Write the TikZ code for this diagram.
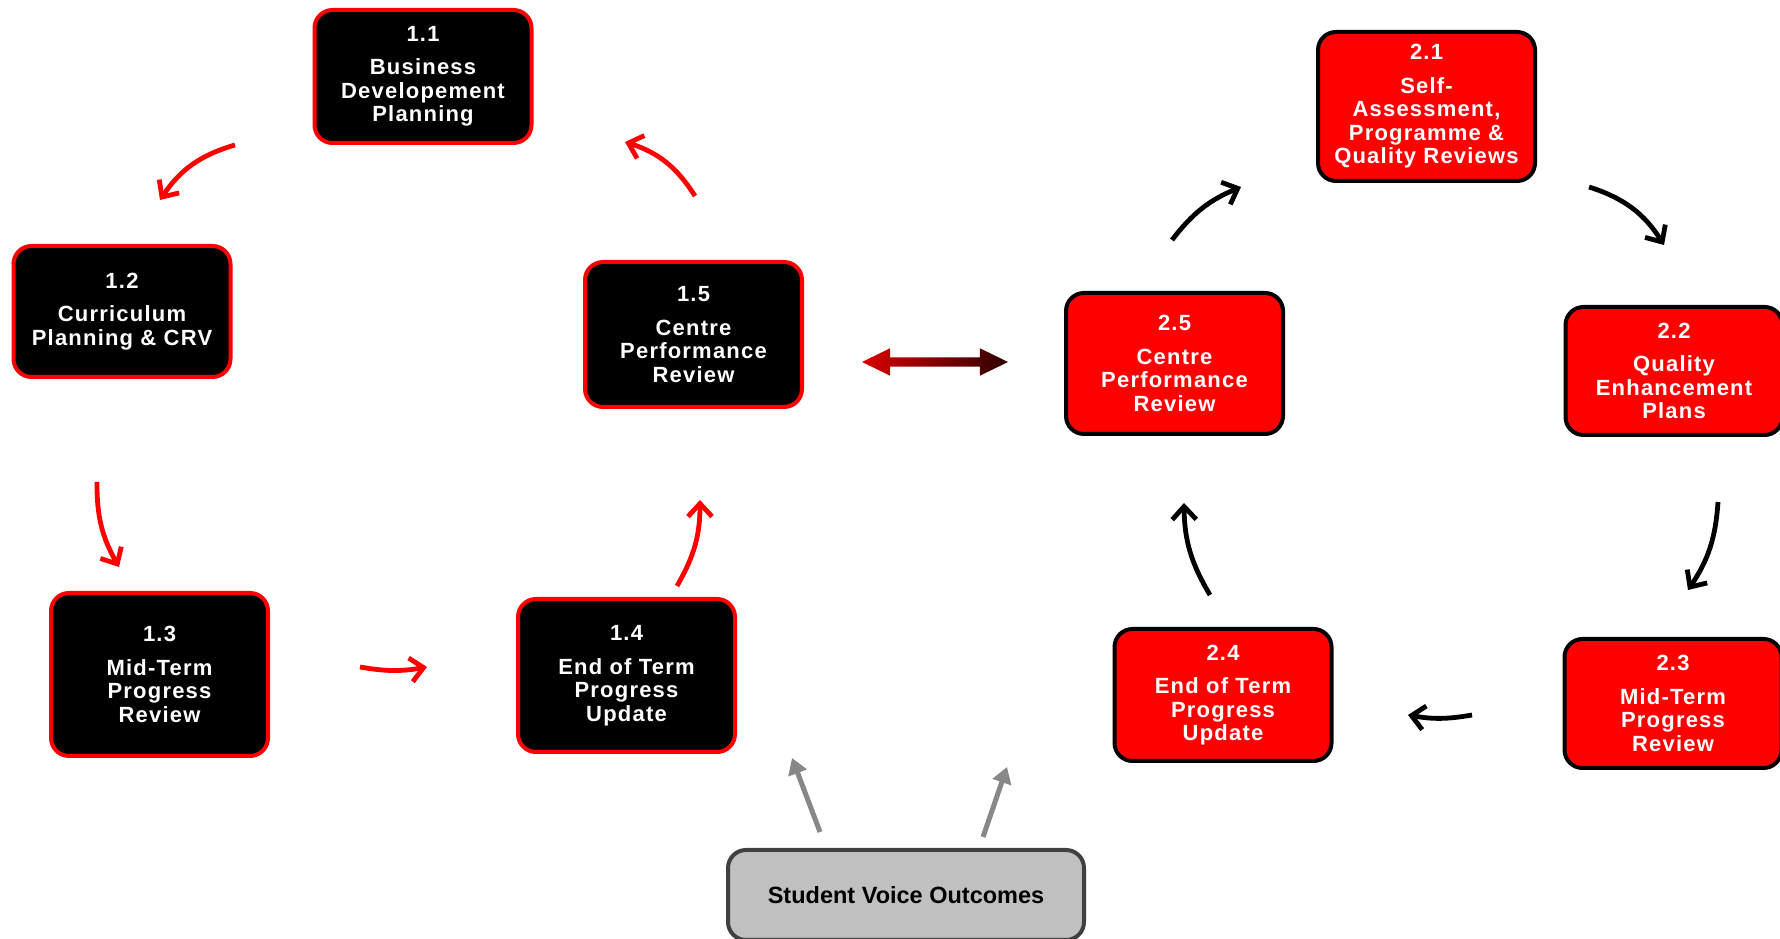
\documentclass[tikz,border=0pt]{standalone}
\usepackage{fontspec}
\setmainfont{Liberation Sans}
\newfontfamily\boxfont{Liberation Sans}[LetterSpace=5.5]
\usetikzlibrary{arrows.meta,shapes.arrows}
\definecolor{brightred}{HTML}{FF0000}
\definecolor{voicegray}{HTML}{C0C0C0}
\definecolor{voiceedge}{HTML}{404040}
\definecolor{arrowgray}{HTML}{888888}
\definecolor{linkred}{HTML}{DA0000}
\definecolor{linkdark}{HTML}{2E0000}

\begin{document}
\begin{tikzpicture}[
    x=1pt, y=1pt,
    stage/.style={rounded corners=18pt, line width=4pt, minimum width=217pt, align=center, text=white, inner sep=2pt, font=\boxfont\bfseries\fontsize{22}{23.5}\selectfont},
    oldbox/.style={stage, draw=brightred, fill=black},
    newbox/.style={stage, draw=black, fill=brightred},
    voicebox/.style={draw=voiceedge, fill=voicegray, rounded corners=18pt, line width=4pt, minimum width=356pt, minimum height=90pt, font=\bfseries\fontsize{23.5}{26}\selectfont},
    redarrow/.style={-{Straight Barb[length=13pt, width=24pt]}, line width=4.8pt, draw=brightred},
    blackarrow/.style={-{Straight Barb[length=13pt, width=24pt]}, line width=4.8pt, draw=black},
    grayarrow/.style={-{Triangle[length=16pt, width=19pt]}, line width=5pt, draw=arrowgray}
]
\clip (0,0) rectangle (1780,939);
\node[oldbox, minimum height=133pt] (bizplan) at (423,862.5) {1.1\\[10pt]Business\\Developement\\Planning};
\node[oldbox, minimum height=131pt] (currplan) at (122,627.5) {1.2\\[10pt]Curriculum\\Planning \& CRV};
\node[oldbox, minimum height=163pt] (midterm) at (159.5,264.5) {1.3\\[10pt]Mid-Term\\Progress\\Review};
\node[oldbox, minimum height=153pt] (endterm) at (626.5,263.5) {1.4\\[10pt]End of Term\\Progress\\Update};
\node[oldbox, minimum height=145pt] (perfrev) at (693.5,604.5) {1.5\\[10pt]Centre\\Performance\\Review};
\node[newbox, minimum height=149pt] (selfassess) at (1426.5,832.5) {2.1\\[10pt]Self-\\Assessment,\\Programme \&\\Quality Reviews};
\node[newbox, minimum height=128pt] (qeplans) at (1674,568) {2.2\\[10pt]Quality\\Enhancement\\Plans};
\node[newbox, minimum height=129pt] (midterm2) at (1673,235.5) {2.3\\[10pt]Mid-Term\\Progress\\Review};
\node[newbox, minimum height=132pt] (endterm2) at (1223,244) {2.4\\[10pt]End of Term\\Progress\\Update};
\node[newbox, minimum height=141pt] (perfrev2) at (1174.5,575.5) {2.5\\[10pt]Centre\\Performance\\Review};
\node[voicebox] (voice) at (906,44) {Student Voice Outcomes};
\node[double arrow, double arrow head extend=9pt, double arrow tip angle=52, minimum height=146pt, inner xsep=0pt, inner ysep=4.5pt, left color=linkred, right color=linkdark] (link) at (935,577) {};

\coordinate (biz-out) at (235,794);
\coordinate (curr-in) at (160,739);
\coordinate (curr-out) at (97,457);
\coordinate (mid-in) at (119,372);
\coordinate (mid-out) at (360,272);
\coordinate (end-in) at (427,272);
\coordinate (end-out) at (677,353);
\coordinate (perf-in) at (700,439);
\coordinate (perf-out) at (695,743);
\coordinate (biz-in) at (625,797);
\coordinate (perf2-out) at (1172,699);
\coordinate (self-in) at (1241,752);
\coordinate (self-out) at (1589,752);
\coordinate (qe-in) at (1664,694);
\coordinate (qe-out) at (1718,437);
\coordinate (mid2-in) at (1688,349);
\coordinate (mid2-out) at (1472,224);
\coordinate (end2-in) at (1408,224);
\coordinate (end2-out) at (1210,344);
\coordinate (perf2-in) at (1184,436);
\coordinate (voice-a) at (820,107);
\coordinate (voice-b) at (983,102);
\coordinate (end-up) at (792,181);
\coordinate (end2-up) at (1007,172);

\draw[redarrow] (biz-out) to[bend right=20] (curr-in);
\draw[redarrow] (curr-out) to[bend right=15] (mid-in);
\draw[redarrow] (mid-out) to[bend right=10] (end-in);
\draw[redarrow] (end-out) to[bend right=15] (perf-in);
\draw[redarrow] (perf-out) to[bend right=20] (biz-in);
\draw[blackarrow] (perf2-out) to[bend left=15] (self-in);
\draw[blackarrow] (self-out) to[bend left=20] (qe-in);
\draw[blackarrow] (qe-out) to[bend left=15] (mid2-in);
\draw[blackarrow] (mid2-out) to[bend left=10] (end2-in);
\draw[blackarrow] (end2-out) to[bend left=15] (perf2-in);
\draw[grayarrow] (voice-a) -- (end-up);
\draw[grayarrow] (voice-b) -- (end2-up);
\end{tikzpicture}
\end{document}
